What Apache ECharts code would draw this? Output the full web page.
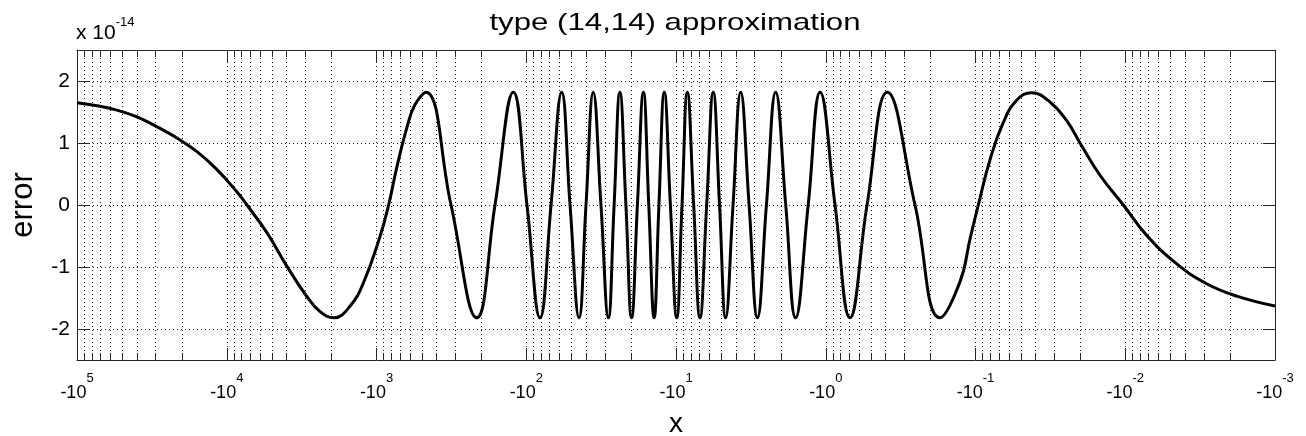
<!DOCTYPE html>
<html>
<head>
<meta charset="utf-8">
<script src="https://cdn.jsdelivr.net/npm/echarts@6/dist/echarts.min.js"></script>
<style>
  html, body { margin: 0; padding: 0; background: #fff; }
  #chart { width: 1306px; height: 436px; }
</style>
</head>
<body>
<div id="chart"></div>
<script>
// ---- data (x is negative, error in units of 1e-14) ----
const xValues = [
  -1e5, -7.35e4, -5.41e4, -3.98e4, -2.92e4, -2.15e4, -1.58e4, -1.162e4, -8.54e3, -7.33e3,
  -5.38e3, -3.96e3, -2.91e3, -2.38e3, -1.93e3, -1.50e3, -1.22e3, -948, -830, -730,
  -625, -553, -467, -318, -214, -161.7, -122, -98.9, -80.9, -68.3,
  -58.0, -51.0, -44.4, -39.9, -35.7, -31.7, -28.3, -25.9, -23.7, -21.6,
  -19.8, -18.1, -16.5, -15.2, -14.0, -13.0, -11.97, -10.9, -9.89, -9.12,
  -8.40, -7.62, -6.92, -6.24, -5.64, -5.12, -4.66, -4.16, -3.70, -3.25,
  -2.86, -2.49, -2.16, -1.85, -1.59, -1.31, -1.09, -0.867, -0.689, -0.530,
  -0.388, -0.2535, -0.1726, -0.127, -0.1088, -0.0958, -0.080, -0.0655, -0.0531, -0.0422,
  -0.0318, -0.0246, -0.02005, -0.01474, -0.0103, -0.00719, -0.00453, -0.00286, -0.00180, -0.001
];
const errorValues = [
  1.65, 1.60, 1.53, 1.42, 1.26, 1.08, 0.86, 0.57, 0.21, 0.00,
  -0.45, -0.99, -1.48, -1.72, -1.82, -1.63, -1.25, -0.51, 0.00, 0.62,
  1.26, 1.62, 1.82, 0, -1.82, 0, 1.82, 0, -1.82, 0,
  1.82, 0, -1.82, 0, 1.82, 0, -1.82, 0, 1.82, 0,
  -1.82, 0, 1.82, 0, -1.82, 0, 1.82, 0, -1.82, 0,
  1.82, 0, -1.82, 0, 1.82, 0, -1.82, 0, 1.82, 0,
  -1.82, 0, 1.82, 0, -1.82, 0, 1.82, 0, -1.82, 0,
  1.82, 0, -1.82, -1.24, -0.55, 0, 0.73, 1.32, 1.69, 1.81,
  1.66, 1.36, 1.00, 0.48, 0, -0.49, -0.95, -1.27, -1.47, -1.63
];
// axis structure
const xMinAbs = 1e-3, xMaxAbs = 1e5;
const minorExponents = [-3, -2, -1, 0, 1, 2, 3, 4];
const minorMultipliers = [2, 3, 4, 5, 6, 7, 8, 9];
const yMin = -2.5, yMax = 2.5;
const titleText = 'type (14,14) approximation';
const xName = 'x';
const yName = 'error';
const scaleBase = 'x 10';
const scaleExp = '-14';

const lineData = xValues.map((x, i) => [Math.abs(x), errorValues[i]]);
const minorData = [];
minorExponents.forEach(e => minorMultipliers.forEach(m => minorData.push([m * Math.pow(10, e), 0])));

const FONT = '"Liberation Sans", Arial, Helvetica, sans-serif';
const gridColor = '#1a1a1a';
const axisColor = '#262626';

const chart = echarts.init(document.getElementById('chart'), null, { renderer: 'canvas' });

function xLabel(v) {
  const e = Math.round(Math.log10(v));
  return '{b|-10}{s|' + e + '}';
}

const xAxisBase = {
  type: 'log',
  logBase: 10,
  min: xMinAbs,
  max: xMaxAbs,
  inverse: true,
  axisLine: { show: true, onZero: false, lineStyle: { color: axisColor, width: 1 } },
  axisTick: { show: true, inside: true, length: 12, lineStyle: { color: axisColor } },
  minorTick: { show: false },
};

const option = {
  backgroundColor: '#fff',
  animation: false,
  grid: { left: 77, right: 31, top: 50, bottom: 76, containLabel: false, outerBoundsMode: 'none' },
  xAxis: [
    Object.assign({}, xAxisBase, {
      position: 'bottom',
      name: xName,
      nameLocation: 'middle',
      nameGap: 50,
      nameTextStyle: { fontFamily: FONT, fontSize: 28, color: '#000' },
      axisLabel: {
        show: true,
        margin: 12,
        formatter: xLabel,
        color: '#000',
        rich: {
          b: { fontFamily: FONT, fontSize: 18, lineHeight: 30, verticalAlign: 'bottom', color: '#000' },
          s: { fontFamily: FONT, fontSize: 13, lineHeight: 20, verticalAlign: 'top', color: '#000' }
        }
      },
      splitLine: { show: true, lineStyle: { color: gridColor, width: 1, type: [1, 3] } }
    }),
    Object.assign({}, xAxisBase, {
      position: 'top',
      axisLabel: { show: false },
      splitLine: { show: false }
    })
  ],
  yAxis: [
    {
      type: 'value', position: 'left', min: yMin, max: yMax, splitNumber: 5,
      name: yName, nameLocation: 'middle', nameGap: 38, nameRotate: 90,
      nameTextStyle: { fontFamily: FONT, fontSize: 31, color: '#000' },
      axisLine: { show: true, onZero: false, lineStyle: { color: axisColor, width: 1 } },
      axisTick: { show: true, inside: true, length: 12, lineStyle: { color: axisColor } },
      axisLabel: {
        margin: 7, fontFamily: FONT, fontSize: 21, color: '#000',
        formatter: v => (Math.abs(v - Math.round(v)) < 1e-9 ? String(Math.round(v)) : '')
      },
      splitLine: { show: true, lineStyle: { color: gridColor, width: 1, type: [1, 3] } }
    },
    {
      type: 'value', position: 'right', min: yMin, max: yMax, splitNumber: 5,
      axisLine: { show: true, onZero: false, lineStyle: { color: axisColor, width: 1 } },
      axisTick: { show: true, inside: true, length: 12, lineStyle: { color: axisColor } },
      axisLabel: { show: false },
      splitLine: { show: false }
    }
  ],
  graphic: [
    {
      type: 'text', x: 675, y: 23, scaleX: 1.3, z: 100,
      style: { text: titleText, fontFamily: FONT, fontSize: 24, fill: '#000', align: 'center', verticalAlign: 'middle' }
    },
    {
      type: 'text', x: 76, y: 16, z: 100,
      style: {
        text: '{a|' + scaleBase + '}{e|' + scaleExp + '}',
        fill: '#000', align: 'left', verticalAlign: 'top',
        rich: {
          a: { fontFamily: FONT, fontSize: 21, lineHeight: 28, verticalAlign: 'bottom', fill: '#000' },
          e: { fontFamily: FONT, fontSize: 13, lineHeight: 11, verticalAlign: 'top', fill: '#000' }
        }
      }
    }
  ],
  series: [
    {
      type: 'custom',
      xAxisIndex: 0, yAxisIndex: 0,
      silent: true, z: 1,
      data: minorData,
      renderItem: function (params, api) {
        const v = api.value(0);
        const pTop = api.coord([v, yMax]);
        const pBot = api.coord([v, yMin]);
        const x = Math.round(pTop[0]) + 0.5;
        return {
          type: 'group',
          children: [
            { type: 'line', shape: { x1: x, y1: pTop[1], x2: x, y2: pBot[1] },
              style: { stroke: gridColor, lineWidth: 1, lineDash: [1, 3] } },
            { type: 'line', shape: { x1: x, y1: pBot[1], x2: x, y2: pBot[1] - 7 },
              style: { stroke: axisColor, lineWidth: 1 } },
            { type: 'line', shape: { x1: x, y1: pTop[1], x2: x, y2: pTop[1] + 7 },
              style: { stroke: axisColor, lineWidth: 1 } }
          ]
        };
      }
    },
    {
      type: 'line',
      xAxisIndex: 0, yAxisIndex: 0,
      data: lineData,
      showSymbol: false,
      smooth: 0.45,
      z: 5,
      lineStyle: { color: '#000', width: 3 },
      itemStyle: { color: '#000' }
    }
  ]
};
chart.setOption(option);
</script>
</body>
</html>
